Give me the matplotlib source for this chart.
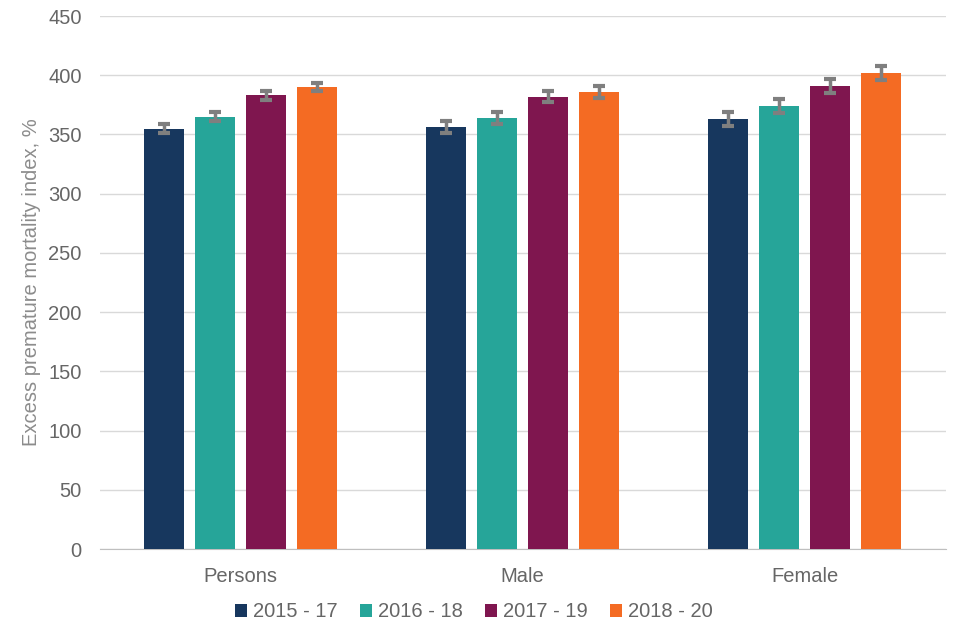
import numpy as np
import matplotlib.pyplot as plt

plt.rcParams['font.family'] = ['Liberation Sans', 'DejaVu Sans']

categories = ['Persons', 'Male', 'Female']
periods = ['2015 - 17', '2016 - 18', '2017 - 19', '2018 - 20']
values = {
    '2015 - 17': [355, 356, 363],
    '2016 - 18': [365, 364, 374],
    '2017 - 19': [383, 382, 391],
    '2018 - 20': [390, 386, 402],
}
errors = {
    '2015 - 17': [4, 5, 6],
    '2016 - 18': [4, 5, 6],
    '2017 - 19': [4, 5, 6],
    '2018 - 20': [3.5, 5, 6],
}
colors = ['#17375e', '#26a599', '#7f164f', '#f46b23']

fig = plt.figure(figsize=(9.6, 6.4), dpi=100)
ax = fig.add_axes([0.104, 0.142, 0.881, 0.833])

x = np.arange(len(categories))
width = 0.142
step = 0.181
for i, p in enumerate(periods):
    pos = x + (i - 1.5) * step
    ax.bar(pos, values[p], width, color=colors[i], label=p, zorder=3)
    ax.errorbar(pos, values[p], yerr=errors[p], fmt='none', ecolor='#7f7f7f',
                elinewidth=2.5, capsize=4, capthick=3, zorder=4)

ax.set_xlim(-0.5, 2.5)
ax.set_ylim(0, 450)
ax.set_yticks(range(0, 451, 50))
ax.set_xticks(x)
ax.set_xticklabels(categories)
ax.yaxis.grid(True, color='#d9d9d9', linewidth=1)
ax.set_axisbelow(True)
for s in ['top', 'right', 'left']:
    ax.spines[s].set_visible(False)
ax.spines['bottom'].set_color('#bfbfbf')
ax.tick_params(axis='both', length=0, colors='#666666', labelsize=14.5)
ax.tick_params(axis='x', pad=13)
ax.tick_params(axis='y', pad=13)
ax.set_ylabel('Excess premature mortality index, %', color='#8c8c8c', fontsize=14.5,
              labelpad=5)

handles, labels = ax.get_legend_handles_labels()
leg = fig.legend(handles, labels, loc='center', bbox_to_anchor=(0.494, 0.044), ncol=4,
                 frameon=False, fontsize=14.5, handlelength=0.6, handleheight=0.6,
                 handletextpad=0.3, columnspacing=1.1)
for t in leg.get_texts():
    t.set_color('#666666')

fig.savefig('out.png', dpi=100)
